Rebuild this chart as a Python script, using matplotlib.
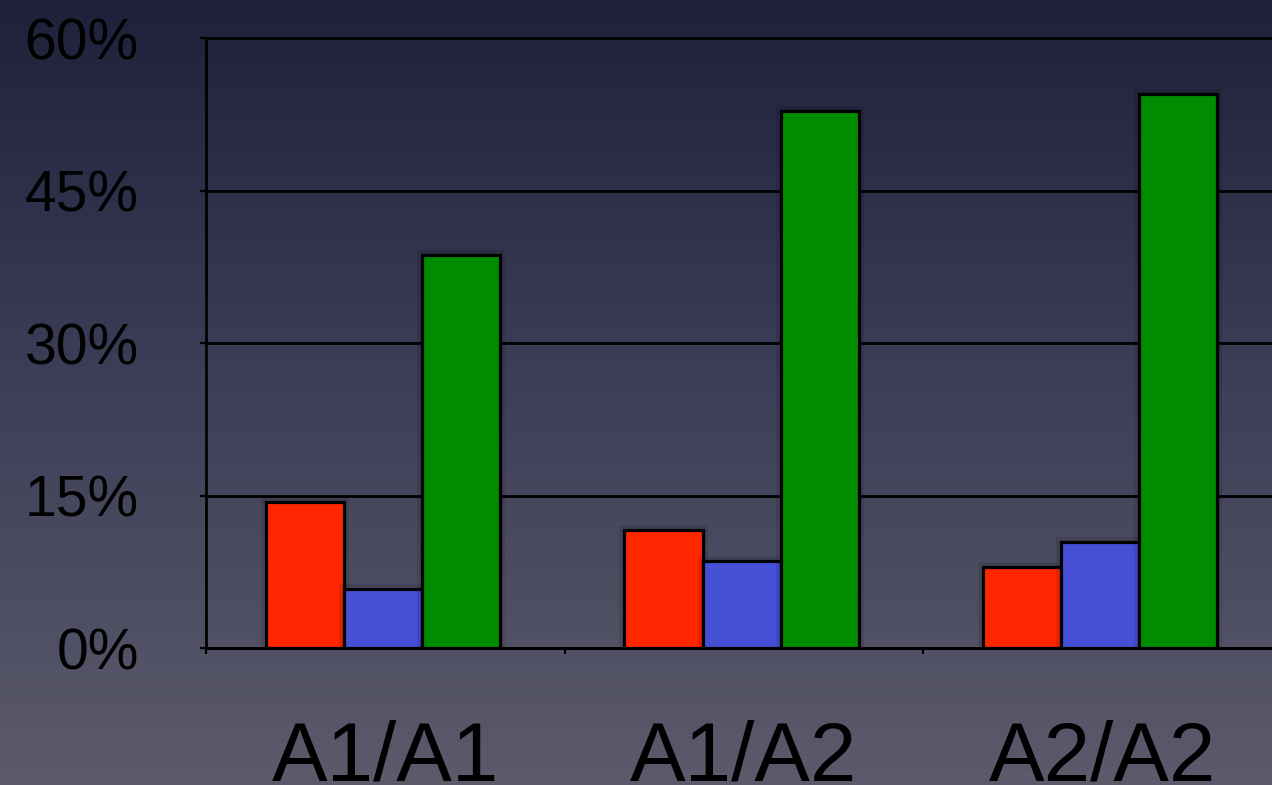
import numpy as np
import matplotlib
matplotlib.use("Agg")
import matplotlib.pyplot as plt
from matplotlib import patheffects as pe
from matplotlib.ticker import FixedLocator, FuncFormatter

# Genotype groups and percentages for each of the three series
categories = ["A1/A1", "A1/A2", "A2/A2"]
red_values = [14.4, 11.6, 8.0]
blue_values = [5.8, 8.6, 10.5]
green_values = [38.7, 52.9, 54.5]
y_ticks = [0, 15, 30, 45, 60]

series = [
    (red_values, "#FF2600"),
    (blue_values, "#4550D6"),
    (green_values, "#008C00"),
]

plt.rcParams["font.family"] = ["Liberation Sans", "DejaVu Sans"]

fig = plt.figure(figsize=(12.72, 7.85), dpi=100)

# Vertical background gradient: dark navy at the top to slate grey at the bottom
bg = fig.add_axes([0, 0, 1, 1], zorder=-10)
top = np.array([31, 32, 58]) / 255
mid = np.array([62, 63, 88]) / 255
bot = np.array([92, 91, 108]) / 255
t = np.linspace(0, 1, 400)[:, None]
grad = np.where(t < 0.5,
                top + (mid - top) * (t / 0.5),
                mid + (bot - mid) * ((t - 0.5) / 0.5))
bg.imshow(grad[:, None, :].repeat(2, axis=1), aspect="auto",
          extent=[0, 1, 0, 1], origin="upper")
bg.set_axis_off()

ax = fig.add_axes([0.162, 0.174, 0.8455, 0.777])
ax.set_facecolor("none")

x = np.arange(len(categories))
width = 0.218
offsets = [-width, 0.0, width]
shadow = [pe.Stroke(linewidth=7, foreground="black", alpha=0.10), pe.Normal()]
for (vals, color), off in zip(series, offsets):
    bars = ax.bar(x + off - 0.006, vals, width=width, color=color,
                  edgecolor="black", linewidth=2.3, zorder=3)
    for b in bars:
        b.set_path_effects(shadow)

ax.set_xlim(-0.5, len(categories) - 0.5)
ax.set_ylim(0, 60)
ax.set_yticks(y_ticks)
ax.yaxis.set_major_formatter(FuncFormatter(lambda v, _: f"{v:.0f}%"))
ax.grid(axis="y", color="black", linewidth=2.0)
ax.set_axisbelow(True)

ax.set_xticks(x)
ax.set_xticklabels(categories)
ax.xaxis.set_minor_locator(FixedLocator([-0.5, 0.5, 1.5]))
ax.tick_params(axis="x", which="major", length=0, pad=51, labelsize=60,
               labelcolor="black")
ax.tick_params(axis="x", which="minor", length=4.5, width=1.6, color="black",
               direction="out")
ax.tick_params(axis="y", length=4.5, width=1.6, color="black", pad=44,
               labelsize=41, labelcolor="black")

for side in ("top", "right"):
    ax.spines[side].set_visible(False)
for side in ("left", "bottom"):
    ax.spines[side].set_color("black")
    ax.spines[side].set_linewidth(2.0)

# Let the horizontal lines reach the tick marks on the left
for line in ax.get_ygridlines():
    line.set_clip_on(False)

fig.savefig("out.png", dpi=100)
